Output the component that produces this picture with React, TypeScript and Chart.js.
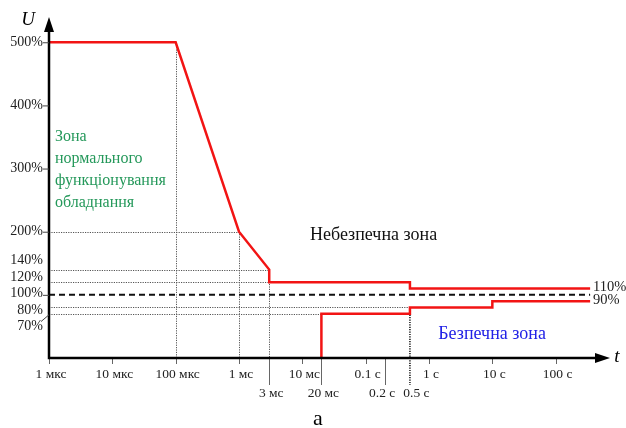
import React, { useEffect, useRef } from 'react';
import { Chart, registerables } from 'chart.js';

Chart.register(...registerables);

// Time axis (seconds, logarithmic)
const decadeTicks = [1e-6, 1e-5, 1e-4, 1e-3, 1e-2, 1e-1, 1, 10, 100];
const decadeLabels = ['1 мкс', '10 мкс', '100 мкс', '1 мс', '10 мс', '0.1 с', '1 с', '10 с', '100 с'];
const markTicks = [3e-3, 2e-2, 0.2, 0.5];
const markLabels = ['3 мс', '20 мс', '0.2 с', '0.5 с'];

// Voltage axis (% of nominal)
const voltTicks = [500, 400, 300, 200, 140, 120, 100, 80, 70];
const voltLabels = ['500%', '400%', '300%', '200%', '140%', '120%', '100%', '80%', '70%'];

// Upper (overvoltage) tolerance boundary
const upperTime = [1e-6, 1e-4, 1e-3, 3e-3, 3e-3, 0.5, 0.5, 350];
const upperVolt = [500, 500, 200, 140, 120, 120, 110, 110];

// Lower (undervoltage) tolerance boundary
const lowerTime = [0.02, 0.02, 0.5, 0.5, 10, 10, 350];
const lowerVolt = [0, 70, 70, 80, 80, 90, 90];

// Nominal voltage line
const nominalTime = [1e-6, 350];
const nominalVolt = [100, 100];

// Dotted guides: horizontal (level -> until time) and vertical (time -> up to level)
const guideLevel = [200, 140, 120, 80, 70];
const guideLevelEnd = [1e-3, 3e-3, 3e-3, 0.5, 0.02];
const guideTime = [1e-4, 1e-3, 3e-3];
const guideTimeTop = [500, 200, 140];

// End labels of the boundaries
const endLabels = ['110%', '90%'];
const endLevels = [110, 90];

const zoneNormal = ['Зона', 'нормального', 'функціонування', 'обладнання'];
const zoneDanger = 'Небезпечна зона';
const zoneSafe = 'Безпечна зона';

const SERIF = "'Liberation Serif', 'Times New Roman', serif";

const pts = (xs: number[], ys: number[]) => xs.map((x, i) => ({ x, y: ys[i] }));

// Spread label centres apart so neighbouring labels keep a minimum distance
function spread(base: number[], need: (i: number, j: number) => number) {
  let groups: number[][] = base.map((_, i) => [i]);
  const layout = (g: number[]) => {
    const offs = [0];
    for (let k = 1; k < g.length; k++) offs.push(offs[k - 1] + need(g[k - 1], g[k]));
    const mb = g.reduce((s, i) => s + base[i], 0) / g.length;
    const mo = offs.reduce((s, o) => s + o, 0) / g.length;
    return offs.map((o) => mb + o - mo);
  };
  for (;;) {
    const pos = groups.map(layout);
    let merged = false;
    for (let k = 0; k < groups.length - 1; k++) {
      const a = groups[k][groups[k].length - 1];
      const b = groups[k + 1][0];
      if (pos[k + 1][0] - pos[k][pos[k].length - 1] < need(a, b)) {
        groups.splice(k, 2, groups[k].concat(groups[k + 1]));
        merged = true;
        break;
      }
    }
    if (!merged) {
      const out = base.slice();
      groups.forEach((g, k) => g.forEach((i, j) => (out[i] = pos[k][j])));
      return out;
    }
  }
}

export default function App() {
  const ref = useRef<HTMLCanvasElement>(null);

  useEffect(() => {
    const canvas = ref.current!;

    const overlay = {
      id: 'toleranceOverlay',
      beforeDatasetsDraw(chart: any) {
        const { ctx, scales } = chart;
        const xs = scales.x;
        const ys = scales.y;
        const x0 = chart.chartArea.left;
        const yAxis = ys.getPixelForValue(0);
        ctx.save();
        ctx.strokeStyle = '#555';
        ctx.lineWidth = 1;
        ctx.setLineDash([1.2, 1.2]);
        guideLevel.forEach((v, i) => {
          const y = Math.round(ys.getPixelForValue(v)) + 0.5;
          ctx.beginPath();
          ctx.moveTo(x0, y);
          ctx.lineTo(xs.getPixelForValue(guideLevelEnd[i]), y);
          ctx.stroke();
        });
        guideTime.forEach((t, i) => {
          const x = Math.round(xs.getPixelForValue(t)) + 0.5;
          ctx.beginPath();
          ctx.moveTo(x, ys.getPixelForValue(guideTimeTop[i]));
          ctx.lineTo(x, yAxis);
          ctx.stroke();
        });
        // 0.5 s marker, dotted black down to its label
        ctx.strokeStyle = '#111';
        ctx.lineWidth = 1.5;
        const xh = xs.getPixelForValue(0.5);
        ctx.beginPath();
        ctx.moveTo(xh, ys.getPixelForValue(80));
        ctx.lineTo(xh, yAxis + 27);
        ctx.stroke();
        ctx.restore();
      },
      afterDatasetsDraw(chart: any) {
        const { ctx, scales } = chart;
        const xs = scales.x;
        const ys = scales.y;
        const x0 = chart.chartArea.left;
        const yAxis = ys.getPixelForValue(0);
        const xEnd = 610;
        const yTop = 17;
        ctx.save();

        // tick marks below the time axis
        ctx.strokeStyle = '#666';
        ctx.lineWidth = 1;
        decadeTicks.forEach((t) => {
          const x = Math.round(xs.getPixelForValue(t)) + 0.5;
          ctx.beginPath();
          ctx.moveTo(x, yAxis);
          ctx.lineTo(x, yAxis + 6);
          ctx.stroke();
        });
        markTicks.forEach((t) => {
          if (t === 0.5) return;
          const x = Math.round(xs.getPixelForValue(t)) + 0.5;
          ctx.beginPath();
          ctx.moveTo(x, yAxis);
          ctx.lineTo(x, yAxis + 27);
          ctx.stroke();
        });

        // axes with arrows
        ctx.strokeStyle = '#000';
        ctx.fillStyle = '#000';
        ctx.lineWidth = 2.5;
        ctx.beginPath();
        ctx.moveTo(x0, yAxis + 1.2);
        ctx.lineTo(x0, yTop + 10);
        ctx.moveTo(x0 - 1.2, yAxis);
        ctx.lineTo(xEnd - 10, yAxis);
        ctx.stroke();
        ctx.beginPath();
        ctx.moveTo(x0, yTop);
        ctx.lineTo(x0 - 5, yTop + 15);
        ctx.lineTo(x0 + 5, yTop + 15);
        ctx.closePath();
        ctx.fill();
        ctx.beginPath();
        ctx.moveTo(xEnd, yAxis);
        ctx.lineTo(xEnd - 15, yAxis - 5);
        ctx.lineTo(xEnd - 15, yAxis + 5);
        ctx.closePath();
        ctx.fill();

        // voltage tick labels, spread apart where they crowd
        ctx.font = `14px ${SERIF}`;
        ctx.textAlign = 'right';
        ctx.textBaseline = 'middle';
        ctx.fillStyle = '#222';
        const base = voltTicks.map((v) => ys.getPixelForValue(v));
        const placed = spread(base, () => 16.5);
        ctx.strokeStyle = '#444';
        ctx.lineWidth = 1;
        voltTicks.forEach((v, i) => {
          const y = placed[i];
          const shift = y - base[i];
          ctx.fillText(voltLabels[i], x0 - 6, y);
          if (v % 100 === 0) {
            ctx.beginPath();
            ctx.moveTo(x0 - 6, base[i] + 0.5);
            ctx.lineTo(x0, base[i] + 0.5);
            ctx.stroke();
          } else if (shift > 10) {
            ctx.beginPath();
            ctx.moveTo(x0 - 8, y - 5);
            ctx.lineTo(x0, base[i] + 1);
            ctx.stroke();
          }
        });

        // time tick labels
        ctx.font = `13.5px ${SERIF}`;
        ctx.textAlign = 'center';
        ctx.textBaseline = 'middle';
        decadeTicks.forEach((t, i) => {
          ctx.fillText(decadeLabels[i], xs.getPixelForValue(t) + 2, yAxis + 16);
        });
        const widths = markLabels.map((s) => ctx.measureText(s).width);
        const markPos = spread(
          markTicks.map((t) => xs.getPixelForValue(t) + 2),
          (i, j) => (widths[i] + widths[j]) / 2 + 8,
        );
        markTicks.forEach((_, i) => {
          ctx.fillText(markLabels[i], markPos[i], yAxis + 35);
        });

        // boundary end labels
        ctx.textAlign = 'left';
        ctx.font = `14.5px ${SERIF}`;
        const xr = xs.getPixelForValue(upperTime[upperTime.length - 1]);
        endLabels.forEach((s, i) => {
          ctx.fillText(s, xr + 3, ys.getPixelForValue(endLevels[i]) - 1);
        });

        // axis names
        ctx.font = `italic 19px ${SERIF}`;
        ctx.textAlign = 'center';
        ctx.fillStyle = '#000';
        ctx.fillText('U', x0 - 21, yTop + 3);
        ctx.fillText('t', xEnd + 7, yAxis - 1);

        // zone captions
        ctx.textAlign = 'left';
        ctx.font = `16px ${SERIF}`;
        ctx.fillStyle = '#24985a';
        zoneNormal.forEach((s, i) => {
          ctx.fillText(s, x0 + 6, ys.getPixelForValue(351) + i * 22);
        });
        ctx.font = `18px ${SERIF}`;
        ctx.fillStyle = '#111';
        ctx.fillText(zoneDanger, xs.getPixelForValue(1.32e-2), ys.getPixelForValue(195));
        ctx.fillStyle = '#2222e6';
        ctx.fillText(zoneSafe, xs.getPixelForValue(1.4), ys.getPixelForValue(38));

        // figure letter
        ctx.font = `22px ${SERIF}`;
        ctx.textAlign = 'center';
        ctx.fillStyle = '#000';
        ctx.fillText('а', 318, 419);
        ctx.restore();
      },
    };

    const line = (data: any, color: string, width: number, dash: number[] = []) => ({
      data,
      showLine: true,
      borderColor: color,
      borderWidth: width,
      borderDash: dash,
      pointRadius: 0,
      tension: 0,
      fill: false,
    });

    const chart = new Chart(canvas, {
      type: 'scatter',
      data: {
        datasets: [
          line(pts(nominalTime, nominalVolt), '#111', 2, [6, 4]),
          line(pts(upperTime, upperVolt), '#f21414', 2.5),
          line(pts(lowerTime, lowerVolt), '#f21414', 2.5),
        ],
      },
      options: {
        responsive: false,
        animation: false,
        layout: { padding: { left: 49, right: 7, top: 17, bottom: 70 } },
        scales: {
          x: { type: 'logarithmic', min: 1e-6, max: 1e3, display: false },
          y: { type: 'linear', min: 0, max: 540, display: false },
        },
        plugins: { legend: { display: false }, tooltip: { enabled: false } },
      },
      plugins: [overlay],
    } as any);

    return () => chart.destroy();
  }, []);

  return (
    <div style={{ position: 'fixed', left: 0, top: 0, width: 626, height: 428, background: '#fff' }}>
      <canvas ref={ref} width={626} height={428} style={{ width: 626, height: 428 }} />
    </div>
  );
}
